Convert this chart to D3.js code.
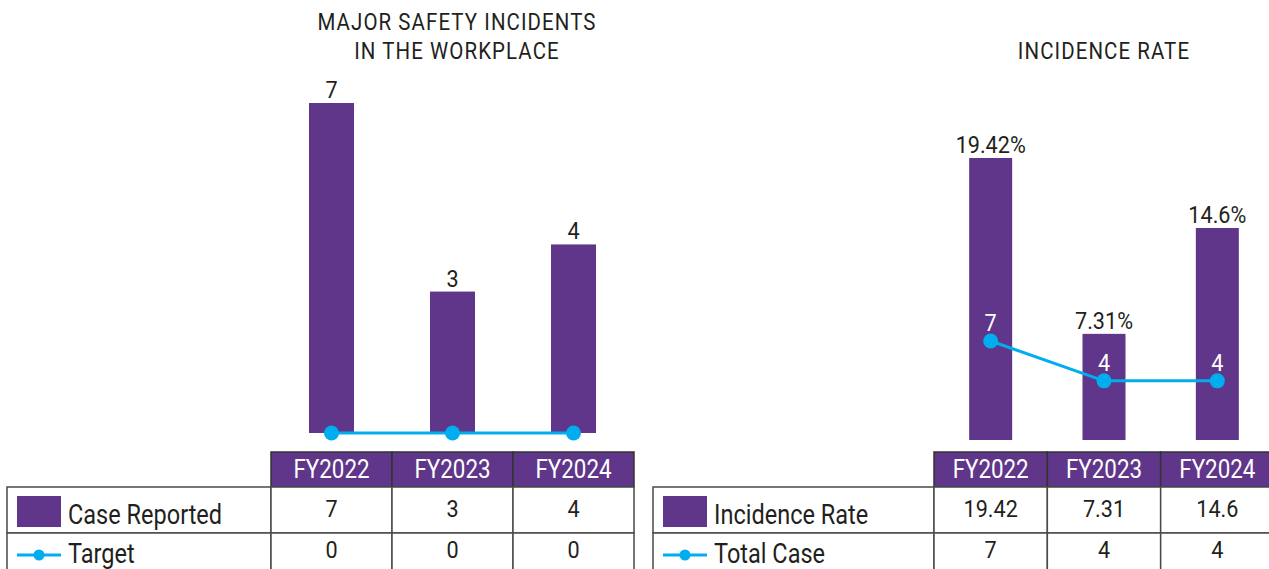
<!DOCTYPE html>
<html>
<head>
<meta charset="utf-8">
<script src="https://cdn.jsdelivr.net/npm/d3@7"></script>
<style>
  body { margin: 0; background: #fff; }
  text { font-family: Roboto, "Noto Sans", sans-serif; }
</style>
</head>
<body>
<svg id="chart"></svg>
<script>
var years = ["FY2022", "FY2023", "FY2024"];
var casesReported = [7, 3, 4];
var targets = [0, 0, 0];
var incidenceRate = [19.42, 7.31, 14.6];
var totalCases = [7, 4, 4];

var purple = "#5f3689";
var blue = "#00aeef";
var ink = "#231f20";
var rule = "#4a4a4a";

var svg = d3.select("#chart")
            .attr("width", 1269)
            .attr("height", 569);

// narrow the glyphs a bit, the original uses a condensed face
var squeeze = function(sel, k){
  sel.each(function(){
    var w = this.getComputedTextLength();
    d3.select(this).attr("textLength", w * k).attr("lengthAdjust", "spacingAndGlyphs");
  });
};

var drawPanel = function(opt){
  var g = svg.append("g");

  var xScale = d3.scaleBand()
                 .domain(years)
                 .range(opt.xRange);

  var yScale = d3.scaleLinear()
                 .domain([0, d3.max(opt.bars)])
                 .range(opt.yRange);

  var lineScale = d3.scaleLinear()
                    .domain(opt.lineDomain)
                    .range(opt.lineRange);

  var cx = function(i){ return xScale(years[i]) + xScale.bandwidth() / 2; };

  // title
  var title = g.append("text")
               .attr("x", opt.titleX)
               .attr("text-anchor", "middle")
               .attr("fill", ink)
               .style("font-size", "23px")
               .style("letter-spacing", "1.2px");
  title.selectAll("tspan")
       .data(opt.title)
       .enter()
       .append("tspan")
       .attr("x", opt.titleX)
       .attr("y", function(d, i){ return 30 + i * 29 + (opt.title.length == 1 ? 29 : 0); })
       .text(function(d){ return d; });
  title.selectAll("tspan").call(squeeze, 0.89);

  // bars
  g.selectAll("rect.bar")
   .data(opt.bars)
   .enter()
   .append("rect")
   .classed("bar", true)
   .attr("x", function(d, i){ return cx(i) - opt.barW / 2; })
   .attr("y", function(d){ return yScale(d); })
   .attr("width", opt.barW)
   .attr("height", function(d){ return yScale(0) - yScale(d); })
   .attr("fill", purple);

  g.selectAll("text.barlab")
   .data(opt.bars)
   .enter()
   .append("text")
   .classed("barlab", true)
   .attr("x", function(d, i){ return cx(i); })
   .attr("y", function(d){ return yScale(d) - 5; })
   .attr("text-anchor", "middle")
   .attr("fill", ink)
   .style("font-size", "24px")
   .text(function(d){ return d + opt.suffix; })
   .call(squeeze, 0.9);

  // line
  var line = d3.line()
               .x(function(d, i){ return cx(i); })
               .y(function(d){ return lineScale(d); });

  g.append("path")
   .datum(opt.line)
   .attr("d", line)
   .attr("fill", "none")
   .attr("stroke", blue)
   .attr("stroke-width", 3);

  g.selectAll("circle.dot")
   .data(opt.line)
   .enter()
   .append("circle")
   .classed("dot", true)
   .attr("cx", function(d, i){ return cx(i); })
   .attr("cy", function(d){ return lineScale(d); })
   .attr("r", 7.5)
   .attr("fill", blue);

  if (opt.lineLabels) {
    g.selectAll("text.linelab")
     .data(opt.line)
     .enter()
     .append("text")
     .classed("linelab", true)
     .attr("x", function(d, i){ return cx(i); })
     .attr("y", function(d){ return lineScale(d) - 10; })
     .attr("text-anchor", "middle")
     .attr("fill", "#fff")
     .style("font-size", "24px")
     .text(function(d){ return d; })
     .call(squeeze, 0.9);
  }

  // table
  var tTop = 452, hH = 35, rH = 46;

  g.selectAll("rect.head")
   .data(years)
   .enter()
   .append("rect")
   .classed("head", true)
   .attr("x", function(d){ return xScale(d); })
   .attr("y", tTop)
   .attr("width", xScale.bandwidth())
   .attr("height", hH)
   .attr("fill", purple)
   .attr("stroke", "#333")
   .attr("stroke-width", 1.5);

  g.selectAll("text.head")
   .data(years)
   .enter()
   .append("text")
   .classed("head", true)
   .attr("x", function(d){ return xScale(d) + xScale.bandwidth() / 2; })
   .attr("y", tTop + 26)
   .attr("text-anchor", "middle")
   .attr("fill", "#fff")
   .style("font-size", "26px")
   .text(function(d){ return d; })
   .call(squeeze, 0.86);

  // second row sits a little higher inside its cell in the original
  var rows = [
    {label: opt.barName, values: opt.bars, key: "bar", labY: 37, numY: 30},
    {label: opt.lineName, values: opt.line, key: "line", labY: 30, numY: 25}
  ];

  var rowG = g.selectAll("g.row")
              .data(rows)
              .enter()
              .append("g")
              .classed("row", true)
              .attr("transform", function(d, i){ return "translate(0," + (tTop + hH + i * rH) + ")"; });

  rowG.append("rect")
      .attr("x", opt.labelLeft)
      .attr("width", xScale(years[0]) - opt.labelLeft)
      .attr("height", rH)
      .attr("fill", "#fff")
      .attr("stroke", rule)
      .attr("stroke-width", 1.5);

  rowG.selectAll("rect.cell")
      .data(function(d){ return d.values; })
      .enter()
      .append("rect")
      .classed("cell", true)
      .attr("x", function(d, i){ return xScale(years[i]); })
      .attr("width", xScale.bandwidth())
      .attr("height", rH)
      .attr("fill", "#fff")
      .attr("stroke", rule)
      .attr("stroke-width", 1.5);

  rowG.each(function(r){
    d3.select(this).selectAll("text.cell")
      .data(r.values)
      .enter()
      .append("text")
      .classed("cell", true)
      .attr("x", function(d, i){ return cx(i); })
      .attr("y", r.numY)
      .attr("text-anchor", "middle")
      .attr("fill", ink)
      .style("font-size", "24px")
      .text(function(d){ return d; })
      .call(squeeze, 0.9);
  });

  rowG.append("text")
      .attr("x", opt.labelLeft + 61)
      .attr("y", function(d){ return d.labY; })
      .attr("fill", ink)
      .style("font-size", "28px")
      .text(function(d){ return d.label; })
      .call(squeeze, 0.84);

  // legend keys
  var barRow = rowG.filter(function(d){ return d.key == "bar"; });
  barRow.append("rect")
        .attr("x", opt.labelLeft + 10)
        .attr("y", 9)
        .attr("width", 44)
        .attr("height", 31)
        .attr("fill", purple);

  var lineRow = rowG.filter(function(d){ return d.key == "line"; });
  lineRow.append("line")
         .attr("x1", opt.labelLeft + 10)
         .attr("x2", opt.labelLeft + 54)
         .attr("y1", 22)
         .attr("y2", 22)
         .attr("stroke", blue)
         .attr("stroke-width", 3);
  lineRow.append("circle")
         .attr("cx", opt.labelLeft + 32)
         .attr("cy", 22)
         .attr("r", 5.5)
         .attr("fill", blue);
};

drawPanel({
  title: ["MAJOR SAFETY INCIDENTS", "IN THE WORKPLACE"],
  titleX: 457,
  xRange: [271, 634],
  yRange: [433, 103],
  barW: 45,
  bars: casesReported,
  suffix: "",
  line: targets,
  lineDomain: [0, 7],
  lineRange: [433, 103],
  lineLabels: false,
  labelLeft: 7,
  barName: "Case Reported",
  lineName: "Target"
});

drawPanel({
  title: ["INCIDENCE RATE"],
  titleX: 1104,
  xRange: [934, 1274],
  yRange: [440, 158],
  barW: 43,
  bars: incidenceRate,
  suffix: "%",
  line: totalCases,
  lineDomain: [0, 7],
  lineRange: [434, 341],
  lineLabels: true,
  labelLeft: 653,
  barName: "Incidence Rate",
  lineName: "Total Case"
});
</script>
</body>
</html>
